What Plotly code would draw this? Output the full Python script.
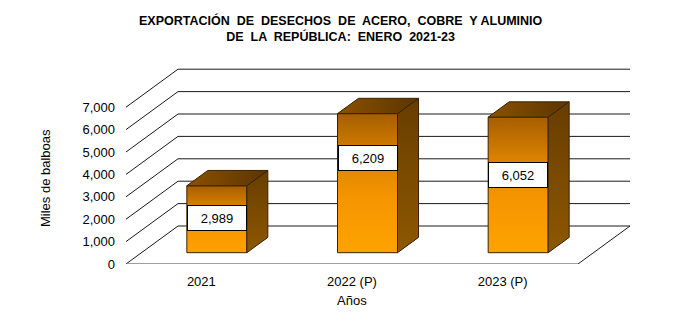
import plotly.graph_objects as go

# ---- data ----
categories = ["2021", "2022 (P)", "2023 (P)"]
values = [2989, 6209, 6052]
tick_values = [0, 1000, 2000, 3000, 4000, 5000, 6000, 7000]
tick_labels = [f"{v:,}" for v in tick_values]
title_lines = ["EXPORTACIÓN  DE  DESECHOS  DE  ACERO,  COBRE  Y ALUMINIO",
               "DE  LA  REPÚBLICA:  ENERO  2021-23"]
y_title = "Miles de balboas"
x_title = "Años"
label_frac = [0.52, 0.68, 0.57]   # vertical position of value boxes on each bar

# ---- geometry (pixels) ----
W, H = 683, 328
L, R, T, B = 126, 52, 68, 64
PLOT_W = W - L - R
PLOT_H = H - T - B
SX = 452 / 3          # px per category
SY = 0.0224           # px per value unit
WALL_DX, WALL_DY = 52, 38
GAP_DX, GAP_DY = 15.5, 11.3
DEP_DX, DEP_DY = 21, 15.3
BAR_W = 60

xr = [-0.5, -0.5 + PLOT_W / SX]
yr = [0, PLOT_H / SY]

wdx, wdy = WALL_DX / SX, WALL_DY / SY
gdx, gdy = GAP_DX / SX, GAP_DY / SY
ddx, ddy = DEP_DX / SX, DEP_DY / SY
bw = BAR_W / SX

FONT = "Arial, Liberation Sans, sans-serif"
fig = go.Figure()

# gridlines: left diagonal + back wall
for v in tick_values:
    fig.add_trace(go.Scatter(
        x=[-0.5, -0.5 + wdx, 2.5 + wdx],
        y=[v, v + wdy, v + wdy],
        mode="lines", line=dict(color="#1a1a1a", width=1),
        hoverinfo="skip", showlegend=False))

# floor front edge and right edge
fig.add_trace(go.Scatter(x=[-0.5, 2.5], y=[0, 0], mode="lines",
                         line=dict(color="#808080", width=1.6),
                         hoverinfo="skip", showlegend=False))
fig.add_trace(go.Scatter(x=[2.5, 2.5 + wdx], y=[0, wdy], mode="lines",
                         line=dict(color="#1a1a1a", width=1),
                         hoverinfo="skip", showlegend=False))

edge = dict(color="#3a2200", width=1)
front_cs = [[0, "#FFA300"], [0.4, "#F59500"], [0.7, "#D98100"], [1, "#A65E00"]]
side_cs = [[0, "#8E5800"], [1, "#673D00"]]
top_cs = [[0, "#8A5100"], [1, "#5C3500"]]

annotations = []
for i, (cat, v) in enumerate(zip(categories, values)):
    xc = i + gdx
    x0, x1 = xc - bw / 2, xc + bw / 2
    y0, y1 = gdy, gdy + v
    # front face
    fig.add_trace(go.Scatter(
        x=[x0, x1, x1, x0, x0], y=[y0, y0, y1, y1, y0],
        fill="toself", mode="lines", line=edge,
        fillgradient=dict(type="vertical", colorscale=front_cs),
        hoverinfo="skip", showlegend=False))
    # side face
    fig.add_trace(go.Scatter(
        x=[x1, x1 + ddx, x1 + ddx, x1, x1],
        y=[y0, y0 + ddy, y1 + ddy, y1, y0],
        fill="toself", mode="lines", line=edge,
        fillgradient=dict(type="vertical", colorscale=side_cs),
        hoverinfo="skip", showlegend=False))
    # top face
    fig.add_trace(go.Scatter(
        x=[x0, x1, x1 + ddx, x0 + ddx, x0],
        y=[y1, y1, y1 + ddy, y1 + ddy, y1],
        fill="toself", mode="lines", line=edge,
        fillgradient=dict(type="horizontal", colorscale=top_cs),
        hoverinfo="skip", showlegend=False))
    annotations.append(dict(
        x=xc, y=y0 + v * label_frac[i], xref="x", yref="y",
        text=f"{v:,}", showarrow=False,
        font=dict(family=FONT, size=13, color="black"),
        bgcolor="white", bordercolor="black", borderwidth=1, borderpad=0,
        width=BAR_W - 2, height=24, align="center", valign="middle"))

# title
annotations.append(dict(
    x=(340.5 - L) / PLOT_W, y=(H - B - 28.5) / PLOT_H,
    xref="paper", yref="paper", xanchor="center", yanchor="middle",
    text="<b>" + title_lines[0] + "<br>" + title_lines[1] + "</b>",
    showarrow=False, font=dict(family=FONT, size=12.5, color="black")))
# axis titles
annotations.append(dict(
    x=(45 - L) / PLOT_W, y=(H - B - 178) / PLOT_H,
    xref="paper", yref="paper", xanchor="center", yanchor="middle",
    text=y_title, textangle=-90, showarrow=False,
    font=dict(family=FONT, size=13, color="black")))
annotations.append(dict(
    x=1, y=(H - B - 300.5) / PLOT_H, xref="x", yref="paper",
    xanchor="center", yanchor="middle", text=x_title, showarrow=False,
    font=dict(family=FONT, size=13, color="black")))

fig.update_layout(
    width=W, height=H,
    margin=dict(l=L, r=R, t=T, b=B),
    paper_bgcolor="white", plot_bgcolor="white",
    showlegend=False,
    annotations=annotations,
    xaxis=dict(range=xr, tickmode="array", tickvals=[0, 1, 2], ticktext=categories,
               showgrid=False, zeroline=False, showline=False, ticks="",
               ticklabelstandoff=8,
               tickfont=dict(family=FONT, size=13, color="black"), fixedrange=True),
    yaxis=dict(range=yr, tickmode="array", tickvals=tick_values, ticktext=tick_labels,
               showgrid=False, zeroline=False, showline=False, ticks="",
               ticklabelstandoff=10,
               tickfont=dict(family=FONT, size=13, color="black"), fixedrange=True),
)

fig.write_html("out.html")
